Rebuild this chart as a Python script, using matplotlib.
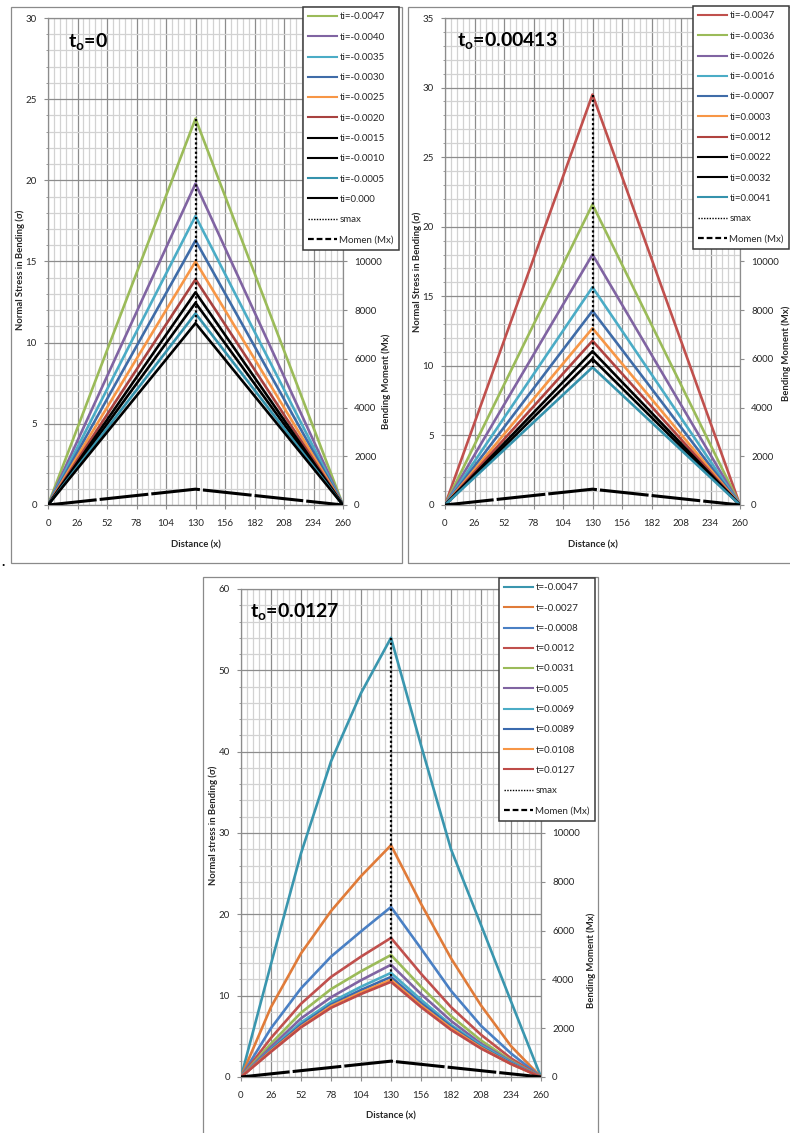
import matplotlib
matplotlib.use("Agg")
import matplotlib.pyplot as plt
from matplotlib.lines import Line2D
from matplotlib.patches import Rectangle
from matplotlib.ticker import MultipleLocator, FuncFormatter

plt.rcParams['font.family'] = ['Lato', 'DejaVu Sans']
plt.rcParams['mathtext.fontset'] = 'custom'
plt.rcParams['mathtext.bf'] = 'Lato:bold'
plt.rcParams['mathtext.rm'] = 'Lato'

W, H = 790, 1133

# ---------------- data ----------------
distance = [0, 26, 52, 78, 104, 130, 156, 182, 208, 234, 260]
moment = [0, 130, 260, 390, 520, 650, 520, 390, 260, 130, 0]

# chart A: t_o = 0 (straight spans, peak at mid-span)
span_x = [0, 130, 260]
labels_a = ['ti=-0.0047', 'ti=-0.0040', 'ti=-0.0035', 'ti=-0.0030', 'ti=-0.0025',
            'ti=-0.0020', 'ti=-0.0015', 'ti=-0.0010', 'ti=-0.0005', 'ti=0.000']
peaks_a = [23.8, 19.8, 17.8, 16.3, 15.0, 13.9, 13.1, 12.45, 11.8, 11.2]
colors_a = ['#9BBB59', '#8064A2', '#4BACC6', '#3F6CA8', '#F79646',
            '#A8423F', '#000000', '#000000', '#3592AC', '#000000']

# chart B: t_o = 0.00413
labels_b = ['ti=-0.0047', 'ti=-0.0036', 'ti=-0.0026', 'ti=-0.0016', 'ti=-0.0007',
            'ti=0.0003', 'ti=0.0012', 'ti=0.0022', 'ti=0.0032', 'ti=0.0041']
peaks_b = [29.5, 21.6, 18.0, 15.65, 13.95, 12.7, 11.8, 11.05, 10.5, 9.9]
colors_b = ['#C0504D', '#9BBB59', '#8064A2', '#4BACC6', '#3F6CA8',
            '#F79646', '#B0433F', '#000000', '#000000', '#3592AC']

# chart C: t_o = 0.0127
labels_c = ['t=-0.0047', 't=-0.0027', 't=-0.0008', 't=0.0012', 't=0.0031',
            't=0.005', 't=0.0069', 't=0.0089', 't=0.0108', 't=0.0127']
stress_c1 = [0, 13.9, 27.5, 38.8, 47.2, 54.0, 40.8, 28.0, 18.7, 9.3, 0]
stress_c2 = [0, 8.6, 15.2, 20.4, 24.7, 28.5, 21.3, 14.6, 8.8, 3.8, 0]
stress_c3 = [0, 6.0, 10.9, 14.8, 17.9, 20.9, 15.8, 10.6, 6.3, 2.9, 0]
stress_c4 = [0, 4.8, 9.0, 12.3, 14.8, 17.1, 12.7, 8.6, 5.2, 2.3, 0]
stress_c5 = [0, 4.1, 7.9, 10.8, 13.0, 15.0, 11.1, 7.5, 4.5, 2.0, 0]
stress_c6 = [0, 3.7, 7.2, 9.8, 11.9, 13.8, 10.2, 6.9, 4.1, 1.9, 0]
stress_c7 = [0, 3.4, 6.7, 9.2, 11.1, 12.8, 9.5, 6.4, 3.9, 1.8, 0]
stress_c8 = [0, 3.3, 6.4, 8.9, 10.7, 12.3, 9.1, 6.2, 3.7, 1.7, 0]
stress_c9 = [0, 3.2, 6.2, 8.7, 10.4, 11.95, 8.8, 6.0, 3.6, 1.6, 0]
stress_c10 = [0, 3.1, 6.1, 8.5, 10.2, 11.7, 8.6, 5.8, 3.5, 1.6, 0]
colors_c = ['#3A96AE', '#E07B39', '#4A80C4', '#C0504D', '#9BBB59',
            '#8064A2', '#4BACC6', '#3A6AAE', '#F79646', '#BE4B48']


def fx(px):
    return px / W


def fy(py):
    return 1 - py / H


fig = plt.figure(figsize=(W / 100, H / 100), dpi=100)

GRID_MAJ = '#8C8C8C'
GRID_MIN = '#D2D2D2'
TXT = '#262626'


def frame(x0, y0, x1, y1):
    fig.add_artist(Rectangle((fx(x0), fy(y1)), fx(x1) - fx(x0), fy(y0) - fy(y1),
                             transform=fig.transFigure, fill=False,
                             edgecolor='#8A8A8A', lw=0.9, zorder=0))


def moment_label(v, pos):
    # upper moment labels sit under the legend box
    return '%d' % v if v <= 10000 else ''


def panel(box, ymax, ymaj, ymin, xs_list, ys_list, colors, labels, title,
          title_xy, ylabel, ylabel_xy, rlabel_xy, xlabel_y, legend_xy):
    l, t, r, b = box
    ax = fig.add_axes([fx(l), fy(b), fx(r) - fx(l), fy(t) - fy(b)])
    ax.set_xlim(0, 260)
    ax.set_ylim(0, ymax)
    ax.set_xticks(distance)
    ax.xaxis.set_minor_locator(MultipleLocator(5.2))
    ax.yaxis.set_major_locator(MultipleLocator(ymaj))
    ax.yaxis.set_minor_locator(MultipleLocator(ymin))
    ax.grid(which='minor', color=GRID_MIN, lw=0.9, zorder=0)
    ax.grid(which='major', color=GRID_MAJ, lw=0.9, zorder=0)
    ax.set_axisbelow(True)
    for s in ax.spines.values():
        s.set_color(GRID_MAJ)
        s.set_linewidth(0.9)
    ax.tick_params(axis='x', which='major', length=3, pad=7, labelsize=7,
                   colors=GRID_MAJ, labelcolor=TXT)
    ax.tick_params(axis='x', which='minor', length=0)
    ax.tick_params(axis='y', which='major', length=3, pad=5, labelsize=7,
                   colors=GRID_MAJ, labelcolor=TXT)
    ax.tick_params(axis='y', which='minor', length=1.5, colors=GRID_MAJ)

    for xs, ys, c in zip(xs_list, ys_list, colors):
        ax.plot(xs, ys, color=c, lw=1.9, solid_joinstyle='round', zorder=3)
    peaks = [max(ys) for ys in ys_list]
    ax.plot([130] * len(peaks), peaks, color='black', lw=1.6,
            ls=(0, (1, 1.1)), zorder=4)

    ax2 = ax.twinx()
    ax2.set_ylim(0, 20000)
    ax2.yaxis.set_major_locator(MultipleLocator(2000))
    ax2.yaxis.set_major_formatter(FuncFormatter(moment_label))
    for s in ax2.spines.values():
        s.set_visible(False)
    ax2.tick_params(axis='y', length=3, pad=5, labelsize=7, colors=GRID_MAJ,
                    labelcolor=TXT)
    ax2.plot(distance, moment, color='black', lw=2.2, ls=(0, (16, 1.0)), zorder=5)

    fig.text(fx(title_xy[0]), fy(title_xy[1]), r'$\mathbf{t_o}$' + title,
             fontsize=14, fontweight='bold', color='black', va='baseline')
    fig.text(fx(ylabel_xy[0]), fy(ylabel_xy[1]), ylabel, rotation=90,
             fontsize=6.8, fontweight='bold', color=TXT, ha='center', va='center')
    fig.text(fx(rlabel_xy[0]), fy(rlabel_xy[1]), 'Bending Moment (Mx)', rotation=90,
             fontsize=6.8, fontweight='bold', color=TXT, ha='center', va='center')
    fig.text(fx((l + r) / 2), fy(xlabel_y), 'Distance (x)', fontsize=6.8,
             fontweight='bold', color=TXT, ha='center', va='center')

    handles = [Line2D([], [], color=c, lw=1.5) for c in colors]
    handles.append(Line2D([], [], color='black', lw=1.0, ls=(0, (1, 1))))
    handles.append(Line2D([], [], color='black', lw=1.6, ls=(0, (2.6, 1.3))))
    leg = fig.legend(handles, labels + ['smax', 'Momen (Mx)'], loc='upper left',
                     bbox_to_anchor=(fx(legend_xy[0]), fy(legend_xy[1])),
                     bbox_transform=fig.transFigure, fontsize=7,
                     frameon=True, fancybox=False, framealpha=1,
                     edgecolor='#3A3A3A', borderpad=0.55, labelspacing=1.16,
                     handlelength=2.9, handletextpad=0.3, borderaxespad=0)
    leg.get_frame().set_linewidth(1.1)
    for txt in leg.get_texts():
        txt.set_color(TXT)
    return ax


# chart frames
frame(11, 7, 402, 563)
frame(408, 7, 795, 563)
frame(203, 577, 598, 1140)
fig.text(fx(1), fy(566), '.', fontsize=10, fontweight='bold', color='black')

panel((48, 18, 343, 505), 30, 5, 1,
      [span_x] * len(peaks_a), [[0, p, 0] for p in peaks_a], colors_a, labels_a,
      '=0', (68, 47), 'Normal Stress in Bending (σ)', (20, 270), (386, 381), 545,
      (303, 7))

panel((445, 18, 740, 505), 35, 5, 1,
      [span_x] * len(peaks_b), [[0, p, 0] for p in peaks_b], colors_b, labels_b,
      '=0.00413', (457, 46), 'Normal Stress in Bending (σ)', (417, 272), (786, 353),
      545, (693, 6))

stress_c = [stress_c1, stress_c2, stress_c3, stress_c4, stress_c5,
            stress_c6, stress_c7, stress_c8, stress_c9, stress_c10]
panel((241, 589, 541, 1077), 60, 10, 2,
      [distance] * len(stress_c), stress_c, colors_c, labels_c,
      '=0.0127', (250, 617), 'Normal stress in Bending (σ)', (213, 825), (591, 960),
      1116, (499, 578))

fig.savefig('out.png', dpi=100)
